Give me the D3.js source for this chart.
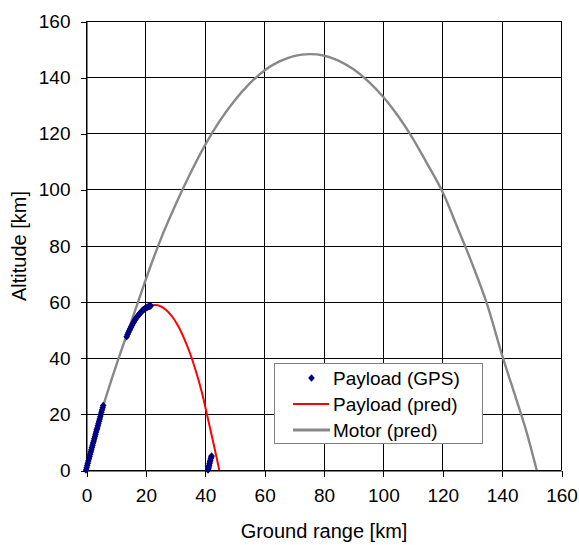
<!DOCTYPE html>
<html>
<head>
<meta charset="utf-8">
<script src="https://cdn.jsdelivr.net/npm/d3@7/dist/d3.min.js"></script>
<style>
body { margin:0; background:#fff; }
text { font-family:"Liberation Sans", Arial, sans-serif; fill:#000; }
</style>
</head>
<body>
<script>
// tick values for both axes
var xTicks = [0,20,40,60,80,100,120,140,160];
var yTicks = [0,20,40,60,80,100,120,140,160];

// GPS fixes of the payload, three pieces of track [ground range km, altitude km]
var gpsRange = [0,0.2,0.4,0.6,0.8,1.0,1.2,1.4,1.6,1.8,2.0,2.2,2.4,2.6,2.8,3.0,3.2,3.4,3.6,3.8,4.0,4.2,4.4,4.6,4.8,5.0,5.2,5.4,5.6,5.8,
  13.7,14.0,14.3,14.6,14.9,15.2,15.5,15.8,16.1,16.4,16.7,17.0,17.3,17.6,17.9,18.2,18.5,18.8,19.1,19.4,19.7,20.0,20.3,20.6,20.9,21.2,21.5,21.8,
  41.1,41.2,41.35,41.5,41.6,41.75,41.9,42.05,42.2,42.3];
var gpsAlt = [0,0.8,1.6,2.4,3.2,4.0,4.8,5.6,6.4,7.2,8.0,8.8,9.6,10.3,11.1,11.9,12.7,13.5,14.3,15.0,15.8,16.6,17.4,18.2,19.0,19.8,20.6,21.4,22.2,23.0,
  47.5,48.3,49.0,49.7,50.3,51.0,51.6,52.2,52.7,53.3,53.8,54.3,54.7,55.1,55.5,55.9,56.2,56.6,56.9,57.2,57.4,57.6,57.8,58.0,58.2,58.3,58.4,58.5,
  0,0.5,1.1,1.7,2.3,2.9,3.5,4.1,4.6,5.0];

// predicted payload path
var predRange = [21.8,23.3,25,27,29,31,33,35,37,39,41,43,44.9];
var predAlt   = [58.5,58.8,58.4,57.0,54.7,51.4,47.0,41.7,35.3,27.8,18.6,9.2,0];

// predicted motor path
var motorRange = [0,3,6,10,14,18,22,26,30,35,40,45,50,55,60,65,70,75.4,80,85,90,95,100,105,110,115,120,125,130,135,140,145,148,151.8];
var motorAlt   = [0,11.8,23.5,36.7,49.0,61.3,73.4,84.4,94.2,105.4,115.6,124.3,131.6,137.6,142.3,145.5,147.5,148.2,147.7,145.9,142.9,138.6,133.1,126.3,118.3,109.0,99.3,86.7,73.7,59.4,41.5,25.0,15.0,0];

var legendNames = ["Payload (GPS)","Payload (pred)","Motor (pred)"];

var width=579, height=545;
var x=d3.scaleLinear().domain([0,160]).range([86,561]);
var y=d3.scaleLinear().domain([0,160]).range([470,21]);

var svg=d3.select('body').append('svg')
    .attr('width',width)
    .attr('height',height);
svg.append('rect').attr('width',width).attr('height',height).attr('fill','#fff');

// grid
var grid=svg.append('g').attr('stroke','#000').attr('stroke-width',1).attr('shape-rendering','crispEdges');
grid.selectAll('.vg').data(xTicks).enter().append('line')
    .attr('x1',function(d){return Math.round(x(d))+0.5;})
    .attr('x2',function(d){return Math.round(x(d))+0.5;})
    .attr('y1',y(160)).attr('y2',y(0));
grid.selectAll('.hg').data(yTicks).enter().append('line')
    .attr('y1',function(d){return Math.round(y(d))+0.5;})
    .attr('y2',function(d){return Math.round(y(d))+0.5;})
    .attr('x1',x(0)).attr('x2',x(160));

var xAxis=d3.axisBottom(x).tickValues(xTicks).tickSize(6).tickPadding(12).tickSizeOuter(0);
var yAxis=d3.axisLeft(y).tickValues(yTicks).tickSize(6).tickPadding(10).tickSizeOuter(0);

var gx=svg.append('g').attr('transform','translate(0.5,'+(Math.round(y(0))+0.5)+')').call(xAxis);
var gy=svg.append('g').attr('transform','translate('+(Math.round(x(0))+0.5)+',0.5)').call(yAxis);
[gx,gy].forEach(function(g){
  g.select('.domain').attr('stroke','#000');
  g.selectAll('.tick line').attr('stroke','#000').attr('shape-rendering','crispEdges');
  g.selectAll('text').attr('font-size','19px').attr('font-family','"Liberation Sans", Arial, sans-serif').attr('fill','#000');
});

// curves
var line=d3.line()
    .x(function(d){return x(d[0]);})
    .y(function(d){return y(d[1]);})
    .curve(d3.curveCatmullRom.alpha(0.5));

var motor=motorRange.map(function(r,i){return [r,motorAlt[i]];});
var pred=predRange.map(function(r,i){return [r,predAlt[i]];});
var gps=gpsRange.map(function(r,i){return [r,gpsAlt[i]];});

svg.append('path').attr('d',line(motor)).attr('fill','none').attr('stroke','#888888').attr('stroke-width',2.4);
svg.append('path').attr('d',line(pred)).attr('fill','none').attr('stroke','#ff0000').attr('stroke-width',2);

var diamond='M0,-3.8L3.3,0L0,3.8L-3.3,0Z';
svg.selectAll('.gps').data(gps).enter().append('path')
    .attr('class','gps')
    .attr('d',diamond)
    .attr('transform',function(d){return 'translate('+x(d[0])+','+y(d[1])+')';})
    .attr('fill','#000080');

// axis titles
svg.append('text')
    .attr('x',324)
    .attr('y',538)
    .attr('text-anchor','middle')
    .attr('font-size','20px')
    .text('Ground range [km]');
svg.append('text')
    .attr('transform','translate(26,246) rotate(-90)')
    .attr('text-anchor','middle')
    .attr('font-size','20px')
    .text('Altitude [km]');

// legend
var lg=svg.append('g');
lg.append('rect').attr('x',274.5).attr('y',363.5).attr('width',208).attr('height',80)
    .attr('fill','#fff').attr('stroke','#808080').attr('stroke-width',1);
var rows=lg.selectAll('.row').data(legendNames).enter().append('g')
    .attr('transform',function(d,i){return 'translate(0,'+(378+i*26)+')';});
rows.append('text').attr('x',333).attr('y',7).attr('font-size','19px').text(function(d){return d;});
rows.filter(function(d,i){return i===0;}).append('path').attr('d',diamond)
    .attr('transform','translate(311.5,0)').attr('fill','#000080');
rows.filter(function(d,i){return i===1;}).append('line')
    .attr('x1',293).attr('x2',329).attr('y1',0).attr('y2',0)
    .attr('stroke','#ff0000').attr('stroke-width',2);
rows.filter(function(d,i){return i===2;}).append('line')
    .attr('x1',293).attr('x2',330).attr('y1',0).attr('y2',0)
    .attr('stroke','#888888').attr('stroke-width',3);
</script>
</body>
</html>
